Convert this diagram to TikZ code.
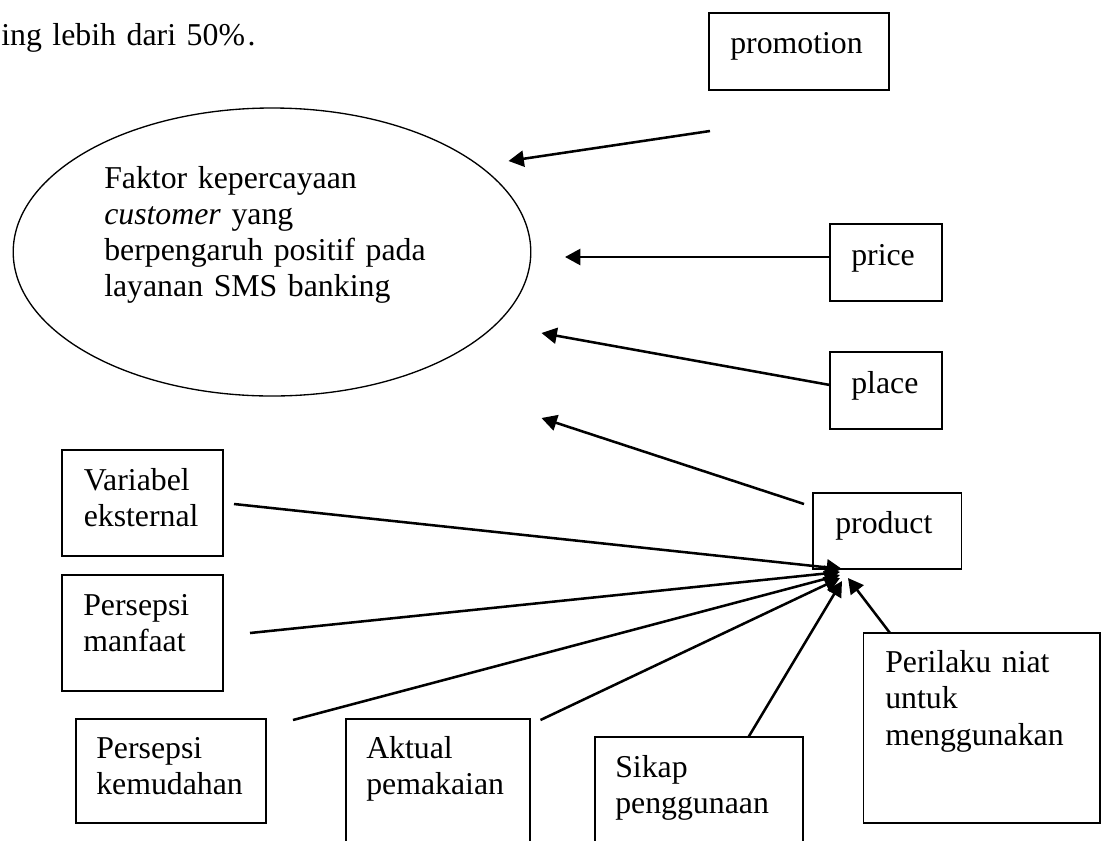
\documentclass[tikz,border=0pt]{standalone}
\usepackage{fontspec}
\setmainfont{Liberation Serif}
\usetikzlibrary{arrows.meta,shapes.geometric,fit}
\begin{document}
\begin{tikzpicture}[x=0.75pt,y=-0.75pt,
  box/.style={draw, line width=1.3pt, inner sep=0pt, rectangle},
  lbl/.style={inner sep=0pt, anchor=base west, align=left, text width=330pt,
    font=\fontsize{23.85pt}{27.6pt}\selectfont},
  arr/.style={line width=1.9pt, -{Triangle[length=11.5pt,width=12pt]}}]
\useasboundingbox (0,0) rectangle (1104,840);
\fill[white] (0,0) rectangle (1104,840);
\clip (0,0) rectangle (1104,840);

% heading fragment
\node[lbl] (head) at (1,45) {ing lebih dari 50\%\kern2pt.};

% central ellipse
\node[draw, ellipse, line width=1pt, inner sep=0pt,
  minimum width=388.2pt, minimum height=216pt] (ell) at (272,252) {};
\node[lbl, font=\fontsize{23.85pt}{27.2pt}\selectfont] (elltxt) at (104,188)
  {Faktor kepercayaan\\\textit{customer} yang\\berpengaruh positif pada\\layanan SMS banking};

% right column boxes
\node[box, fit={(709,13) (889,90)}] (promo) {};
\node[lbl] (promotxt) at (730,53) {promotion};
\node[box, fit={(830,224) (942,301)}] (price) {};
\node[lbl] (pricetxt) at (851,265) {price};
\node[box, fit={(830,352) (942,429)}] (place) {};
\node[lbl] (placetxt) at (851,393) {place};
\node[box, fit={(813,493) (961.5,569)}] (product) {};
\node[lbl] (producttxt) at (835,533) {product};

% left and bottom boxes
\node[box, fit={(62,450) (223,556)}] (var) {};
\node[lbl] (vartxt) at (83.5,490) {Variabel\\eksternal};
\node[box, fit={(62,575) (223,691)}] (pm) {};
\node[lbl] (pmtxt) at (83,615) {Persepsi\\manfaat};
\node[box, fit={(75.7,719) (266,823)}] (pk) {};
\node[lbl] (pktxt) at (96,758) {Persepsi\\kemudahan};
\node[box, fit={(346,719) (530,860)}] (akt) {};
\node[lbl] (akttxt) at (366,758) {Aktual\\pemakaian};
\node[box, fit={(595,737) (803,860)}] (sikap) {};
\node[lbl] (sikaptxt) at (615,777) {Sikap\\penggunaan};
\node[box, fit={(863.6,633) (1100,822.7)}] (peri) {};
\node[lbl] (peritxt) at (885,672) {Perilaku niat\\untuk\\menggunakan};

% connector end points
\coordinate (promoS) at (710,131);   \coordinate (promoT) at (508.5,161);
\coordinate (priceS) at (830,257);   \coordinate (priceT) at (565,257);
\coordinate (placeS) at (830,385);   \coordinate (placeT) at (541.5,333);
\coordinate (prodS)  at (804,504);   \coordinate (prodT)  at (541.5,418);
\coordinate (varS)   at (234,504);   \coordinate (varT)   at (842,569);
\coordinate (pmS)    at (250,633);   \coordinate (pmT)    at (840,572);
\coordinate (pkS)    at (293,720);   \coordinate (pkT)    at (840,575);
\coordinate (aktS)   at (540.5,720); \coordinate (aktT)   at (840,578);
\coordinate (sikS)   at (748.5,737); \coordinate (sikT)   at (842,581);
\coordinate (periS)  at (890,633);   \coordinate (periT)  at (848,578);

\draw[arr] (promoS) -- (promoT);
\draw[arr] (priceS) -- (priceT);
\draw[arr] (placeS) -- (placeT);
\draw[arr] (prodS) -- (prodT);
\draw[arr] (varS) -- (varT);
\draw[arr] (pmS) -- (pmT);
\draw[arr] (pkS) -- (pkT);
\draw[arr] (aktS) -- (aktT);
\draw[arr] (sikS) -- (sikT);
\draw[arr] (periS) -- (periT);
\end{tikzpicture}
\end{document}
